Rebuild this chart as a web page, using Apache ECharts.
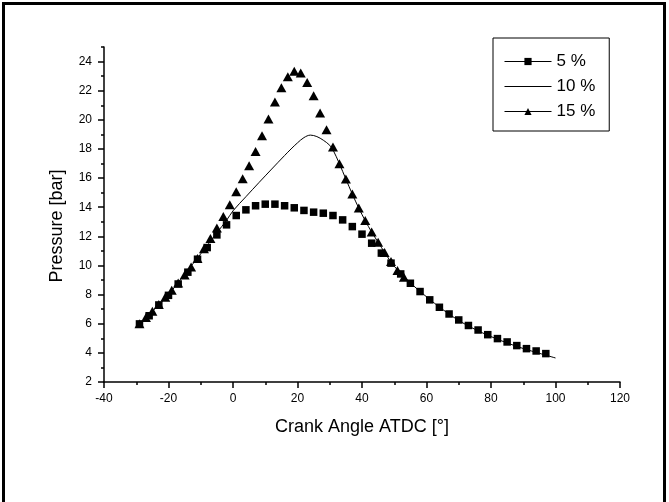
<!DOCTYPE html>
<html>
<head>
<meta charset="utf-8">
<script src="https://cdn.jsdelivr.net/npm/echarts@6/dist/echarts.min.js"></script>
<style>
  html, body { margin: 0; padding: 0; background: #fff; }
  #chart { width: 669px; height: 502px; }
</style>
</head>
<body>
<div id="chart"></div>
<script>
// Cylinder pressure vs crank angle for three mixture fractions
const seriesNames = ['5 %', '10 %', '15 %'];

const angle5 = [-29, -26, -23, -20, -17, -14, -11, -8, -5, -2, 1, 4, 7, 10, 13, 16, 19, 22, 25, 28,
  31, 34, 37, 40, 43, 46, 49, 52, 55, 58, 61, 64, 67, 70, 73, 76, 79, 82, 85, 88, 91, 94, 97];
const pressure5 = [5.99, 6.55, 7.29, 7.95, 8.73, 9.54, 10.43, 11.23, 12.1, 12.79, 13.43, 13.82, 14.1, 14.21,
  14.21, 14.1, 13.96, 13.78, 13.66, 13.59, 13.43, 13.13, 12.67, 12.15, 11.53, 10.85, 10.16, 9.42, 8.78,
  8.21, 7.64, 7.13, 6.67, 6.26, 5.88, 5.57, 5.25, 4.98, 4.75, 4.5, 4.29, 4.13, 3.95];

const angle10 = [-29, -25, -20, -15, -10, -5, -2, 0, 4, 8, 12, 16, 18, 20, 22, 24, 26, 28, 30, 31, 33, 35,
  37, 39, 41, 43, 45, 47, 50, 55, 60, 65, 70, 75, 80, 85, 90, 95, 100];
const pressure10 = [6.0, 6.85, 8.0, 9.4, 10.8, 12.25, 13.1, 13.75, 14.72, 15.68, 16.62, 17.55, 18.0, 18.42,
  18.78, 18.95, 18.85, 18.6, 18.25, 17.94, 16.98, 15.93, 14.9, 13.94, 13.08, 12.29, 11.6, 10.9, 9.95,
  8.8, 7.85, 6.98, 6.22, 5.62, 5.12, 4.68, 4.3, 3.97, 3.65];

const angle15 = [-29, -27, -25, -23, -21, -19, -17, -15, -13, -11, -9, -7, -5, -3, -1, 1, 3, 5, 7, 9, 11,
  13, 15, 17, 19, 21, 23, 25, 27, 29, 31, 33, 35, 37, 39, 41, 43, 45, 47, 49, 51, 53];
const pressure15 = [6.0, 6.42, 6.85, 7.32, 7.82, 8.3, 8.8, 9.35, 9.9, 10.48, 11.15, 11.85, 12.58, 13.36,
  14.17, 15.06, 15.95, 16.85, 17.83, 18.9, 20.05, 21.22, 22.2, 22.96, 23.33, 23.22, 22.57, 21.66, 20.47,
  19.32, 18.13, 16.98, 15.93, 14.9, 13.94, 13.08, 12.29, 11.6, 10.89, 10.27, 9.65, 9.19];

const yMajorTicks = [2, 4, 6, 8, 10, 12, 14, 16, 18, 20, 22, 24];

const zip = (xs, ys) => xs.map((x, i) => [x, ys[i]]);

const FONT = '"Liberation Sans", Arial, sans-serif';
const chart = echarts.init(document.getElementById('chart'), null, { renderer: 'canvas' });

chart.setOption({
  animation: false,
  backgroundColor: '#fff',
  grid: { left: 104, right: 49, top: 47, bottom: 120, containLabel: false },
  xAxis: {
    type: 'value', min: -40, max: 120, interval: 20,
    name: 'Crank Angle ATDC [°]', nameLocation: 'middle', nameGap: 36,
    nameTextStyle: { fontFamily: FONT, fontSize: 18, color: '#000' },
    axisLine: { show: true, onZero: false, lineStyle: { color: '#000', width: 1.5 } },
    axisTick: { show: true, inside: false, length: 6, lineStyle: { color: '#000', width: 1.5 } },
    minorTick: { show: true, splitNumber: 2, length: 3, lineStyle: { color: '#000', width: 1.5 } },
    axisLabel: { fontFamily: FONT, fontSize: 12, color: '#000', margin: 11 },
    splitLine: { show: false }
  },
  yAxis: [
    {
      type: 'value', min: 2, max: 25, interval: 1, position: 'left',
      axisLine: { show: true, onZero: false, lineStyle: { color: '#000', width: 1.5 } },
      axisTick: { show: true, inside: false, length: 3, lineStyle: { color: '#000', width: 1.5 } },
      axisLabel: {
        fontFamily: FONT, fontSize: 12, color: '#000', margin: 12,
        formatter: v => (yMajorTicks.indexOf(v) >= 0 ? String(v) : '')
      },
      splitLine: { show: false }
    },
    {
      type: 'value', min: 2, max: 25, interval: 2, position: 'left',
      axisLine: { show: false, onZero: false },
      axisTick: { show: true, inside: false, length: 6, customValues: yMajorTicks,
        lineStyle: { color: '#000', width: 1.5 } },
      axisLabel: { show: false },
      splitLine: { show: false }
    }
  ],
  legend: {
    orient: 'vertical', left: 493, top: 38,
    padding: [15, 14, 11, 11],
    itemWidth: 47, itemHeight: 9, itemGap: 8,
    borderColor: '#000', borderWidth: 1, backgroundColor: '#fff',
    textStyle: { fontFamily: FONT, fontSize: 17, color: '#000', lineHeight: 17 },
    lineStyle: { color: '#000', width: 1, opacity: 1 },
    data: [
      { name: seriesNames[0] },
      { name: seriesNames[1], icon: 'path://M0,0h47v1h-47z' },
      { name: seriesNames[2] }
    ]
  },
  graphic: [
    {
      type: 'text', x: 57, y: 226, rotation: Math.PI / 2,
      style: { text: 'Pressure [bar]', font: '18px ' + FONT, fill: '#000',
        textAlign: 'center', textVerticalAlign: 'middle' }
    },
    {
      type: 'rect', silent: true,
      shape: { x: 3.5, y: 3.5, width: 661, height: 540 },
      style: { fill: 'none', stroke: '#000', lineWidth: 3 }
    }
  ],
  series: [
    {
      name: seriesNames[0], type: 'line', data: zip(angle5, pressure5),
      symbol: 'rect', symbolSize: 7.5, showSymbol: true,
      itemStyle: { color: '#000' },
      lineStyle: { width: 0, opacity: 0 }, z: 3
    },
    {
      name: seriesNames[1], type: 'line', data: zip(angle10, pressure10),
      symbol: 'none', smooth: 0.35,
      itemStyle: { color: '#000' },
      lineStyle: { color: '#000', width: 1 }, z: 2
    },
    {
      name: seriesNames[2], type: 'line', data: zip(angle15, pressure15),
      symbol: 'triangle', symbolSize: [10, 9], showSymbol: true,
      itemStyle: { color: '#000' },
      lineStyle: { width: 0, opacity: 0 }, z: 4
    }
  ]
});
</script>
</body>
</html>
